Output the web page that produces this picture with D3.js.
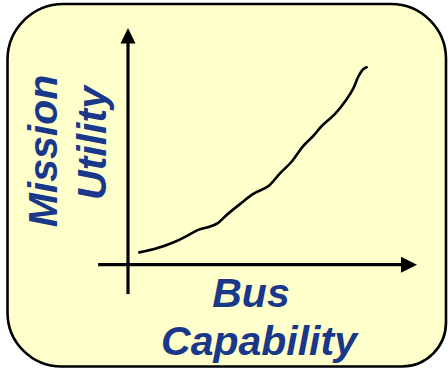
<!DOCTYPE html>
<html>
<head>
<meta charset="utf-8">
<script src="https://cdn.jsdelivr.net/npm/d3@7"></script>
<style>
  html, body { margin: 0; padding: 0; background: #ffffff; }
  svg { display: block; }
  .label { font-family: "Liberation Sans", Arial, sans-serif; font-weight: bold; font-style: italic; fill: #1a388a; }
</style>
</head>
<body>
<svg id="chart" width="448" height="371"></svg>
<script>
// Bus capability (x) vs. mission utility (y), arbitrary units 0–10
const capability = [0.39, 0.99, 1.62, 2.02, 2.42, 2.83, 3.11, 3.40, 3.86, 4.32, 4.84,
                    5.24, 5.64, 6.04, 6.39, 6.68, 7.14, 7.54, 7.77, 7.94, 8.11, 8.23];
const utility    = [0.52, 0.69, 0.97, 1.21, 1.47, 1.61, 1.77, 2.10, 2.56, 2.99, 3.32,
                    3.86, 4.35, 5.01, 5.44, 5.86, 6.37, 6.99, 7.45, 7.94, 8.26, 8.34];
const xTitle = "Bus Capability".split(" ");
const yTitle = ["Mission", "Utility"];

const svg = d3.select("#chart");

// Rounded panel
function panelPath(l, t, r, b, rTL, rTR, rBR, rBL) {
  const p = d3.path();
  p.moveTo(l + rTL, t);
  p.lineTo(r - rTR, t);
  p.arcTo(r, t, r, t + rTR, rTR);
  p.lineTo(r, b - rBR);
  p.arcTo(r, b, r - rBR, b, rBR);
  p.lineTo(l + rBL, b);
  p.arcTo(l, b, l, b - rBL, rBL);
  p.lineTo(l, t + rTL);
  p.arcTo(l, t, l + rTL, t, rTL);
  p.closePath();
  return p.toString();
}
svg.append("path")
  .attr("d", panelPath(7.5, 4, 446, 366.5, 56, 55, 44, 54))
  .attr("fill", "#ffffcc")
  .attr("stroke", "#000")
  .attr("stroke-width", 2.6);

const x = d3.scaleLinear().domain([0, 10]).range([128, 418]);
const y = d3.scaleLinear().domain([0, 10]).range([264.7, 28]);

// Axes with arrowheads
const axisColor = "#000";
svg.append("line")
  .attr("x1", x(-1.03)).attr("x2", x(9.5))
  .attr("y1", y(0)).attr("y2", y(0))
  .attr("stroke", axisColor).attr("stroke-width", 3.2);
svg.append("line")
  .attr("x1", x(0)).attr("x2", x(0))
  .attr("y1", y(-1.24)).attr("y2", y(9.5))
  .attr("stroke", axisColor).attr("stroke-width", 3.2);

const xTip = x(10) - 1;
svg.append("path")
  .attr("d", `M${xTip},${y(0)} L${xTip - 16},${y(0) - 8} L${xTip - 16},${y(0) + 8} Z`)
  .attr("fill", axisColor);
const yTip = y(10);
svg.append("path")
  .attr("d", `M${x(0)},${yTip} L${x(0) - 7.5},${yTip + 15.5} L${x(0) + 7.5},${yTip + 15.5} Z`)
  .attr("fill", axisColor);

// Utility curve
const pts = capability.map((c, i) => [c, utility[i]]);
svg.append("path")
  .datum(pts)
  .attr("d", d3.line().x(d => x(d[0])).y(d => y(d[1])).curve(d3.curveCatmullRom.alpha(0.5)))
  .attr("fill", "none")
  .attr("stroke", "#000")
  .attr("stroke-width", 2.6)
  .attr("stroke-linecap", "round")
  .attr("stroke-linejoin", "round");

// Axis titles
const fs = 41;
svg.append("text").attr("class", "label")
  .attr("x", 251).attr("y", 307)
  .attr("text-anchor", "middle").style("font-size", fs + "px")
  .text(xTitle[0]);
svg.append("text").attr("class", "label")
  .attr("x", 259).attr("y", 355)
  .attr("text-anchor", "middle").style("font-size", fs + "px")
  .text(xTitle[1]);

svg.append("text").attr("class", "label")
  .attr("transform", "translate(57,151) rotate(-90)")
  .attr("text-anchor", "middle").style("font-size", fs + "px")
  .text(yTitle[0]);
svg.append("text").attr("class", "label")
  .attr("transform", "translate(106,143) rotate(-90)")
  .attr("text-anchor", "middle").style("font-size", fs + "px")
  .text(yTitle[1]);
</script>
</body>
</html>
